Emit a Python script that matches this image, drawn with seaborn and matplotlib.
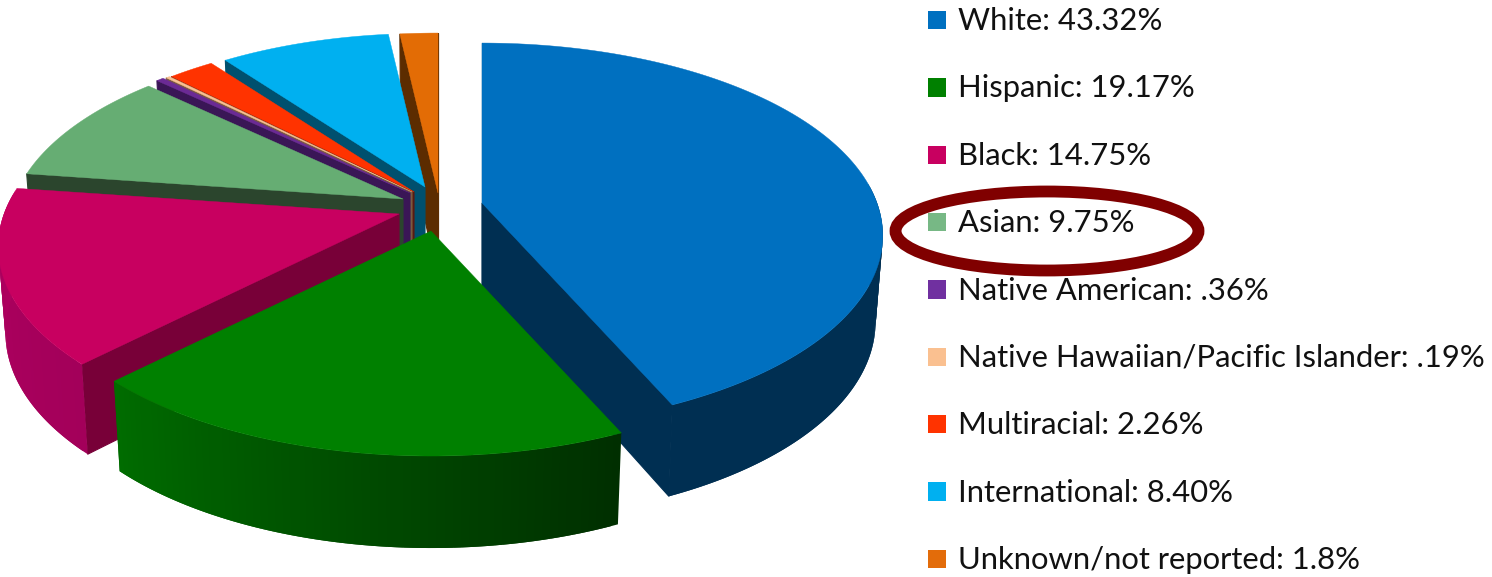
import numpy as np
import matplotlib
matplotlib.use('Agg')
import matplotlib.pyplot as plt
from matplotlib.patches import Ellipse
import seaborn as sns

groups = ['White', 'Hispanic', 'Black', 'Asian', 'Native American',
          'Native Hawaiian/Pacific Islander', 'Multiracial', 'International',
          'Unknown/not reported']
shares = [43.32, 19.17, 14.75, 9.75, 0.36, 0.19, 2.26, 8.40, 1.8]
share_labels = ['43.32%', '19.17%', '14.75%', '9.75%', '.36%', '.19%', '2.26%', '8.40%', '1.8%']

top_colors = ['#0070C0', '#008000', '#C80060', '#66AD73', '#6B2A95',
              '#FAC090', '#FF3300', '#00B0F0', '#E36C05']
key_colors = ['#0070C0', '#008000', '#C80060', '#77B885', '#7030A0',
              '#FAC090', '#FF3300', '#00B0F0', '#E36C0A']
wall_colors = ['#002F52', '#003000', '#780038', '#2B452D', '#3A1656',
               '#7A5A40', '#5A1A10', '#00506E', '#5C2C00']
# rim shade at the start and end of each slice
rim_from = ['#002F52', '#002F00', '#A3005A', '#2B452D', '#3A1656',
            '#7A5A40', '#5A1A10', '#00506E', '#5C2C00']
rim_to = ['#002F52', '#006C00', '#B00060', '#2B452D', '#3A1656',
          '#7A5A40', '#5A1A10', '#00506E', '#5C2C00']

# where each exploded slice has its tip, in pixels, and its size
tips_x = [482, 431, 399, 403, 410, 412, 414, 425, 438]
tips_y = [203, 231, 214, 199, 193, 192, 192, 187, 193]
radii = [1.0, 1.0, 1.0, 0.985, 0.98, 0.975, 0.975, 0.96, 1.0]
draw_order = [8, 7, 6, 5, 4, 3, 2, 0, 1]

RX, RY, PERSP = 395, 187, 0.169
DEPTH, DEPTH_V, SHRINK = 85, 7, 0.982


def top_point(th, tx, ty, r):
    u, v = np.sin(th), np.cos(th)
    s = r / (1 + PERSP * v)
    return tx + RX * u * s, ty - RY * v * s


def drop(x, y, th, tx):
    return tx + (x - tx) * SHRINK, y + DEPTH - DEPTH_V * np.cos(th)


def blend(c1, c2, t):
    a, b = np.array(matplotlib.colors.to_rgb(c1)), np.array(matplotlib.colors.to_rgb(c2))
    return tuple(a + (b - a) * t)


sns.set_theme(style='white')
plt.rcParams['font.family'] = ['Lato', 'DejaVu Sans']

fig = plt.figure(figsize=(14.92, 5.77), dpi=100)
ax = fig.add_axes([0, 0, 1, 1])
ax.set_xlim(0, 1492)
ax.set_ylim(577, 0)
ax.axis('off')

palette = sns.color_palette(top_colors)
edges = np.radians(np.concatenate([[0], np.cumsum(shares)]) * 3.6)

for i in draw_order:
    t1, t2 = edges[i], edges[i + 1]
    tx, ty, r = tips_x[i], tips_y[i], radii[i]
    ths = np.linspace(t1, t2, max(int(np.degrees(t2 - t1)), 3))
    xs, ys = top_point(ths, tx, ty, r)

    # side walls along the two cuts, only when they face the viewer
    for th, show in ((t1, np.sin(t1) <= 1e-9), (t2, np.sin(t2) > 0)):
        if not show:
            continue
        ex, ey = top_point(th, tx, ty, r)
        bx, by = drop(ex, ey, th, tx)
        ax.fill([tx, ex, bx, tx], [ty, ey, by, ty + DEPTH], color=wall_colors[i], lw=0.8)

    # outer rim in short shaded strips, each one running under the next
    bxs, bys = drop(xs, ys, ths, tx)
    for k in range(len(ths) - 1):
        if np.cos(ths[k]) > 0.1 and np.cos(ths[k + 1]) > 0.1:
            continue
        e = min(k + 2, len(ths) - 1)
        col = blend(rim_from[i], rim_to[i], k / max(len(ths) - 2, 1))
        ax.fill(np.r_[xs[k:e + 1], bxs[k:e + 1][::-1]],
                np.r_[ys[k:e + 1], bys[k:e + 1][::-1]], color=col, lw=0)

    ax.fill(np.r_[tx, xs], np.r_[ty, ys], color=palette[i], lw=0.3)

# key on the right
key_y = np.linspace(20, 559, len(groups))
ax.scatter(np.full(len(groups), 937), key_y, marker='s', s=175, c=key_colors, linewidths=0)
for y, g, lab in zip(key_y, groups, share_labels):
    ax.text(958, y + 1, f'{g}: {lab}', fontsize=22.3, color='#111111', va='center', ha='left')

ax.add_patch(Ellipse((1047, 231), 303, 79, fc='none', ec='#800000', lw=8.5))

fig.savefig('out.png', dpi=100)
